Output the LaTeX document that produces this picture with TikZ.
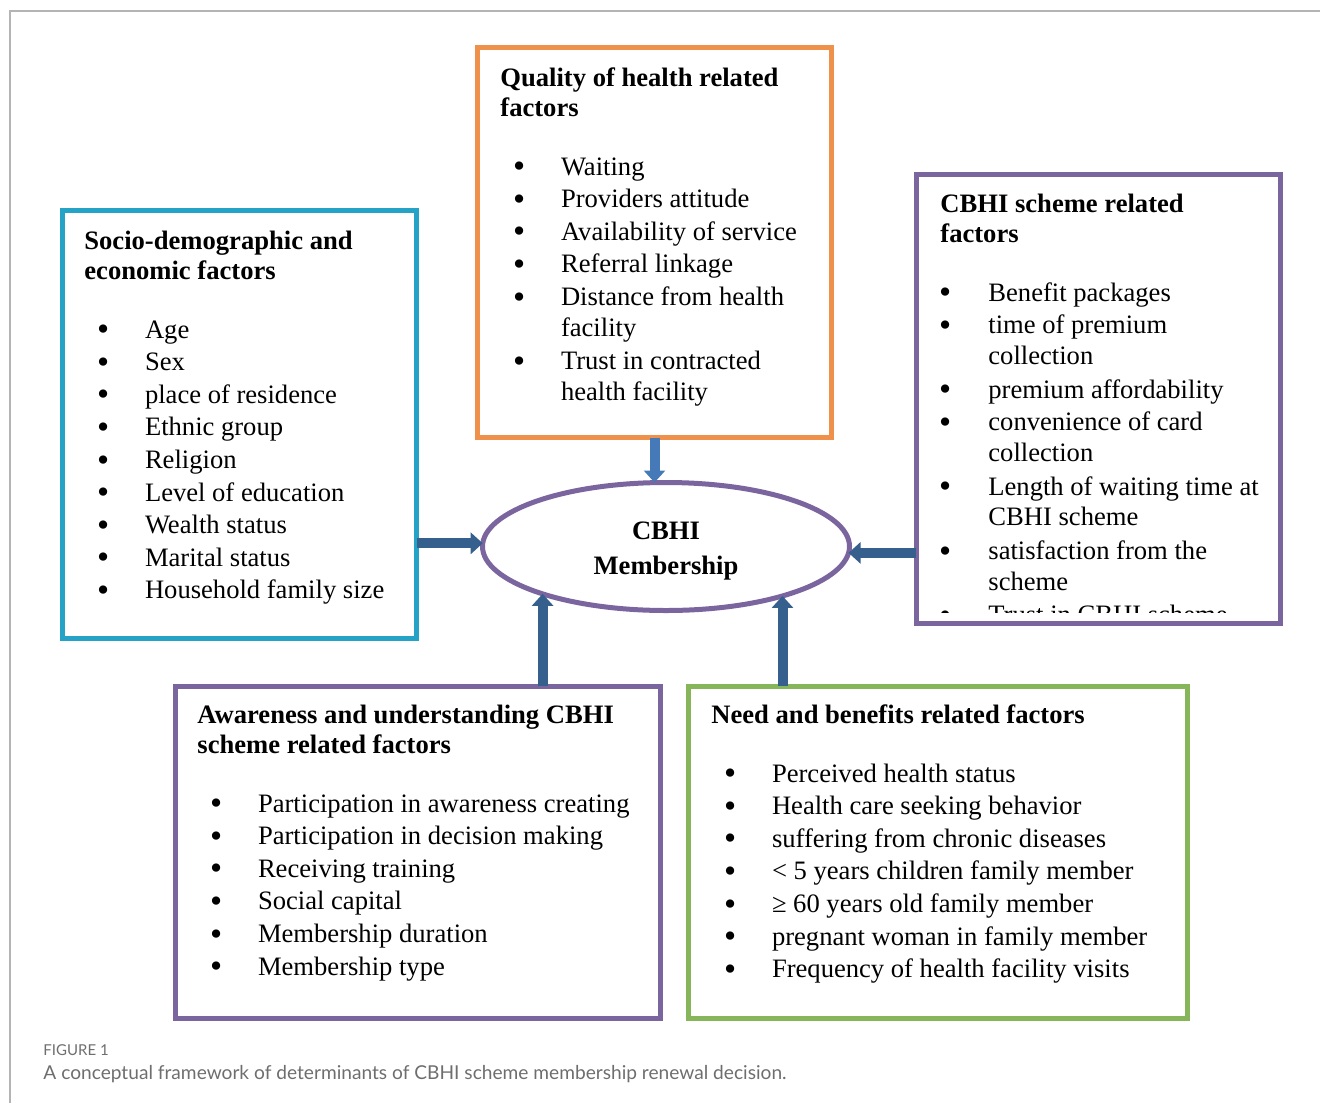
\documentclass[tikz,border=0pt]{standalone}
\usepackage{fontspec}
\setmainfont{Liberation Serif}
\newfontfamily\capfont{Lato}
\usetikzlibrary{arrows.meta,shapes.geometric,fit,positioning}

\definecolor{sociob}{HTML}{24A3C6}
\definecolor{qualo}{HTML}{F0914B}
\definecolor{purp}{HTML}{7A659F}
\definecolor{needg}{HTML}{86B55A}
\definecolor{arrb}{HTML}{355F8C}
\definecolor{arrt}{HTML}{4579B8}
\definecolor{framegray}{HTML}{B4B4B4}
\definecolor{capgray}{HTML}{6E6E6E}

\newcommand{\bigbul}{\raisebox{-1.35pt}{\scalebox{1.3}{\textbullet}}}
\newcommand{\itm}[1]{\hspace*{6.3pt}\makebox[24pt][l]{\bigbul}#1}
\newcommand{\itc}[1]{\hspace*{30.3pt}#1}
\newcommand{\itmr}[1]{\hspace*{-0.7pt}\makebox[24.7pt][l]{\bigbul}#1}
\newcommand{\itcr}[1]{\hspace*{24pt}#1}
\newenvironment{boxlist}{\begin{tabular}[t]{@{}l@{}}}{\end{tabular}}

\tikzset{
  box/.style={draw, line width=2.5pt, inner sep=0pt, outer sep=0pt},
  txt/.style={anchor=base west, inner sep=0pt, font=\fontsize{13.3}{16.3}\selectfont},
  arr/.style={draw=arrb, line width=5pt, -{Triangle[width=10.5pt,length=6pt]}},
  captxt/.style={anchor=base west, inner sep=0pt, text=capgray},
}

\begin{document}
\begin{tikzpicture}[x=0.5pt, y=-0.5pt]
  \useasboundingbox (0,0) rectangle (1320,1103);
  \draw[framegray, line width=1pt] (10,1103) -- (10,11) -- (1320,11);

  \node[box, draw=sociob, fit={(62.5,210.5) (416.5,638)}] (socio) {};
  \node[box, draw=qualo, fit={(477.5,47.5) (831.5,437.5)}] (quality) {};
  \node[box, draw=purp, fit={(916,174.5) (1280,623)}] (scheme) {};
  \node[box, draw=purp, fit={(175,686) (660,1018)}] (aware) {};
  \node[box, draw=needg, fit={(688.5,686) (1187,1018)}] (need) {};

  \node[ellipse, draw=purp, line width=2.5pt, minimum width=183.5pt, minimum height=64pt,
        inner sep=0pt, outer sep=0pt] (cbhi) at (666,546.5) {};
  \node[align=center, inner sep=0pt, font=\fontsize{13.3}{17.5}\selectfont\bfseries]
    (cbhitxt) at (666,551.5) {CBHI\\Membership};

  \node[txt] (sociotxt) at (84,249) {\begin{boxlist}
    \textbf{Socio-demographic and}\\[-1.3pt]
    \textbf{economic factors}\\[13.2pt]
    \itm{Age}\\ \itm{Sex}\\ \itm{place of residence}\\ \itm{Ethnic group}\\
    \itm{Religion}\\ \itm{Level of education}\\ \itm{Wealth status}\\
    \itm{Marital status}\\ \itm{Household family size}
  \end{boxlist}};

  \node[txt] (qualitytxt) at (500,86) {\begin{boxlist}
    \textbf{Quality of health related}\\[-1.3pt]
    \textbf{factors}\\[13.2pt]
    \itm{Waiting}\\ \itm{Providers attitude}\\ \itm{Availability of service}\\
    \itm{Referral linkage}\\ \itm{Distance from health}\\[-1pt] \itc{facility}\\[0.6pt]
    \itm{Trust in contracted}\\[-1pt] \itc{health facility}
  \end{boxlist}};

  \begin{scope}
    \clip (916,174.5) rectangle (1280,612);
    \node[txt] (schemetxt) at (940,212) {\begin{boxlist}
      \textbf{CBHI scheme related}\\[-1.3pt]
      \textbf{factors}\\[13.2pt]
      \itmr{Benefit packages}\\ \itmr{time of premium}\\[-1pt] \itcr{collection}\\[0.6pt]
      \itmr{premium affordability}\\ \itmr{convenience of card}\\[-1pt] \itcr{collection}\\[0.6pt]
      \itmr{Length of waiting time at}\\[-1pt] \itcr{CBHI scheme}\\[0.6pt]
      \itmr{satisfaction from the}\\[-1pt] \itcr{scheme}\\[0.6pt]
      \itmr{Trust in CBHI scheme}
    \end{boxlist}};
  \end{scope}

  \node[txt] (awaretxt) at (197,723) {\begin{boxlist}
    \textbf{Awareness and understanding CBHI}\\[-1.3pt]
    \textbf{scheme related factors}\\[13.2pt]
    \itm{Participation in awareness creating}\\ \itm{Participation in decision making}\\
    \itm{Receiving training}\\ \itm{Social capital}\\ \itm{Membership duration}\\
    \itm{Membership type}
  \end{boxlist}};

  \node[txt] (needtxt) at (711,723) {\begin{boxlist}
    \textbf{Need and benefits related factors}\\[13.2pt]
    \itm{Perceived health status}\\ \itm{Health care seeking behavior}\\
    \itm{suffering from chronic diseases}\\ \itm{< 5 years children family member}\\
    \itm{≥ 60 years old family member}\\ \itm{pregnant woman in family member}\\
    \itm{Frequency of health facility visits}
  \end{boxlist}};

  \draw[arr, draw=arrt] (quality.south) -- (quality.south |- cbhi.north);
  \draw[arr] (socio.east |- cbhi.179) -- (cbhi.179);
  \draw[arr] (scheme.west |- cbhi.358) -- (cbhi.358);
  \draw[arr] (aware.north -| cbhi.201) -- (cbhi.201);
  \draw[arr] (need.north -| cbhi.337) -- (cbhi.337);

  \node[captxt, font=\capfont\fontsize{7.5}{9}\selectfont] (fignum) at (43,1055) {FIGURE 1};
  \node[captxt, font=\capfont\fontsize{9.57}{11}\selectfont] (caption) at (43,1079)
    {A conceptual framework of determinants of CBHI scheme membership renewal decision.};
\end{tikzpicture}
\end{document}
